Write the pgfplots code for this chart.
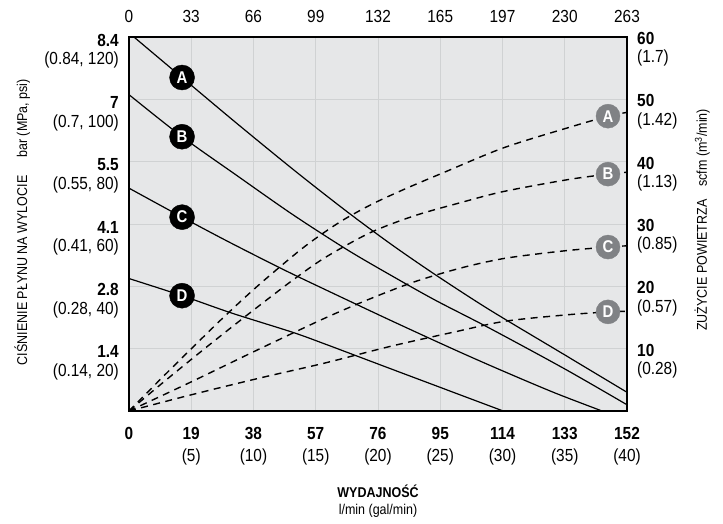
\documentclass[border=0pt]{standalone}
\usepackage{pgfplots}
\pgfplotsset{compat=1.18}
\usepackage{fontspec}
\setmainfont{Liberation Sans}[FakeStretch=0.88]
\definecolor{bg}{HTML}{E6E7E8}
\definecolor{gridc}{HTML}{D0D2D3}
\definecolor{mgray}{HTML}{808285}
\newcommand\tfont{\fontsize{17.5bp}{18.5bp}\selectfont}
\newcommand\lfont{\fontsize{14.2bp}{17bp}\selectfont}
\newcommand\mfont{\fontsize{17bp}{17bp}\selectfont\bfseries}
\pgfplotsset{
  solidline/.style={black, line width=1.2bp, mark=none, smooth},
  dashline/.style={black, line width=1.4bp, dash pattern=on 7bp off 5.5bp, mark=none, smooth},
  bmark/.style={only marks, mark=*, mark size=12.5bp, mark options={fill=black, draw=black},
    nodes near coords={#1}, every node near coord/.append style={anchor=center, text=white, font=\mfont, inner sep=0pt}},
  gmark/.style={only marks, mark=*, mark size=12bp, mark options={fill=mgray, draw=mgray},
    nodes near coords={#1}, every node near coord/.append style={anchor=center, text=white, font=\mfont, inner sep=0pt}},
}
\begin{document}
\begin{tikzpicture}
\begin{axis}[
  name=ax, at={(0,0)}, anchor=south west,
  scale only axis, width=498bp, height=374bp,
  xmin=0, xmax=152, ymin=0, ymax=120,
  axis background/.style={fill=bg},
  axis line style={line width=1.3bp},
  grid=major, major grid style={gridc, line width=0.9bp},
  major tick length=0,
  xtick={0,19,38,57,76,95,114,133,152},
  xticklabels={\textbf{0},{\textbf{19}\\[3.5bp](5)},{\textbf{38}\\[3.5bp](10)},{\textbf{57}\\[3.5bp](15)},{\textbf{76}\\[3.5bp](20)},{\textbf{95}\\[3.5bp](25)},{\textbf{114}\\[3.5bp](30)},{\textbf{133}\\[3.5bp](35)},{\textbf{152}\\[3.5bp](40)}},
  xticklabel style={font=\tfont, align=center, anchor=north, inner sep=0pt, yshift=-16bp},
  ytick={20,40,60,80,100,120},
  yticklabels={{\textbf{1.4}\\(0.14, 20)},{\textbf{2.8}\\(0.28, 40)},{\textbf{4.1}\\(0.41, 60)},{\textbf{5.5}\\(0.55, 80)},{\textbf{7}\\(0.7, 100)},{\textbf{8.4}\\(0.84, 120)}},
  yticklabel style={font=\tfont, align=right, anchor=north east, inner sep=0pt, xshift=-10bp, yshift=3bp},
  xlabel={\textbf{WYDAJNOŚĆ}\\l/min (gal/min)},
  xlabel style={at={(axis description cs:0.5,-0.196)}, anchor=north, align=center, inner sep=0pt, font=\lfont},
  ylabel={CIŚNIENIE PŁYNU NA WYLOCIE\hspace{18bp}bar (MPa, psi)},
  ylabel style={at={(axis description cs:-0.2048,0.505)}, anchor=base, inner sep=0pt, font=\lfont},
]
% pressure curves (psi)
\addplot[solidline] coordinates {(1.5,120) (16.2,107) (33,92.2) (50.7,77) (66.5,64) (80,53.5) (93.4,43.8) (110,32.5) (133,18) (152,6)};
\addplot[solidline] coordinates {(0,101.5) (16.2,88) (33,75.5) (50,63) (66.5,51.8) (80,43.5) (93.4,35.6) (110,26.6) (133,13.5) (152,2)};
\addplot[solidline] coordinates {(0,71.5) (16.2,62.2) (30,54.5) (46.7,45.6) (59.8,39) (80,29) (99.5,19.6) (114.2,12.8) (130,5.8) (144.4,0)};
\addplot[solidline] coordinates {(0,42.5) (16.2,37) (31.4,31.4) (49.8,25.3) (59.8,21.5) (80,13.5) (99.5,5.8) (114.2,0)};
\addplot[bmark={A}] coordinates {(16.2,107)};
\addplot[bmark={B}] coordinates {(16.2,88)};
\addplot[bmark={C}] coordinates {(16.2,62.2)};
\addplot[bmark={D}] coordinates {(16.2,37)};
\end{axis}
\begin{axis}[
  at={(0,0)}, anchor=south west,
  scale only axis, width=498bp, height=374bp,
  xmin=0, xmax=152, ymin=0, ymax=60,
  axis x line*=top, axis y line*=right,
  axis line style={draw=none},
  major tick length=0,
  xtick={0,19,38,57,76,95,114,133,152},
  xticklabels={0,33,66,99,132,165,197,230,263},
  xticklabel style={font=\tfont, anchor=south, inner sep=0pt, yshift=14bp},
  ytick={10,20,30,40,50,60},
  yticklabels={{\textbf{10}\\(0.28)},{\textbf{20}\\(0.57)},{\textbf{30}\\(0.85)},{\textbf{40}\\(1.13)},{\textbf{50}\\(1.42)},{\textbf{60}\\(1.7)}},
  yticklabel style={font=\tfont, align=left, anchor=north west, inner sep=0pt, xshift=10bp, yshift=5bp},
  ylabel={ZUŻYCIE POWIETRZA\hspace{13bp}scfm (m\textsuperscript{3}/min)},
  ylabel style={at={(axis description cs:1.1606,0.511)}, anchor=base, rotate=0, inner sep=0pt, font=\lfont},
]
% air consumption (scfm)
\addplot[dashline] coordinates {(0,0) (10,5.3) (20,10.5) (30,15.6) (40,20.4) (52.2,25.8) (60,28.8) (66.5,31) (75,33.4) (85,35.8) (95.8,38.2) (114.2,42.2) (133.7,45.4) (146.2,47.3) (152,47.9)};
\addplot[dashline] coordinates {(0,0) (10,4.4) (20,8.7) (30,12.9) (40,17) (50,21) (59.8,24.6) (73.6,28.6) (87,31.3) (101,33.4) (114.2,35.2) (133.7,37.1) (146.2,38) (152,38.3)};
\addplot[dashline] coordinates {(0,0) (19.1,4.7) (40,10) (59.8,14.9) (73.6,18) (87,20.7) (101,22.9) (114.8,24.5) (133,25.7) (146.2,26.3) (152,26.5)};
\addplot[dashline] coordinates {(0,0) (19,2.6) (40,5.3) (59.8,7.7) (80,10.4) (99.5,12.7) (114.8,14.4) (133,15.4) (146.2,15.9) (152,16)};
\addplot[gmark={A}] coordinates {(146.2,47.3)};
\addplot[gmark={B}] coordinates {(146.2,38)};
\addplot[gmark={C}] coordinates {(146.2,26.3)};
\addplot[gmark={D}] coordinates {(146.2,15.9)};
\end{axis}
\pgfresetboundingbox
\path (-129bp,-113bp) rectangle (594bp,411bp);
\end{tikzpicture}
\end{document}
